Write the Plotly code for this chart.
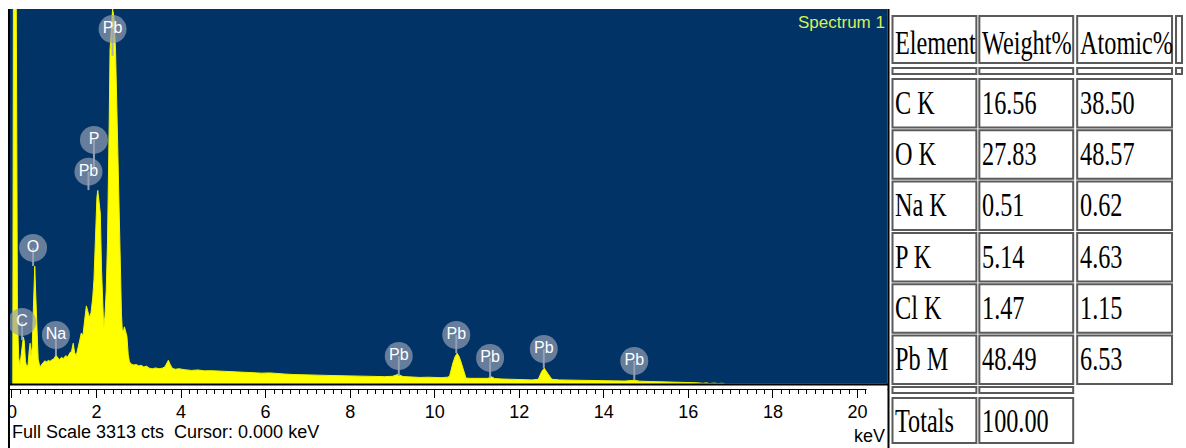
import plotly.graph_objects as go

# ---- EDS spectrum: energy (keV) and counts per channel ----
energy_kev = [
    0.02, 0.035, 0.10, 0.13, 0.16, 0.19, 0.22, 0.25, 0.27, 0.29, 0.32, 0.35, 0.38, 0.41, 0.43,
    0.45, 0.48, 0.51, 0.54, 0.56, 0.59, 0.62, 0.66, 0.70, 0.74, 0.78, 0.82, 0.86, 0.90, 0.95,
    1.00, 1.04, 1.08, 1.12, 1.17, 1.22, 1.27, 1.32, 1.37, 1.41, 1.45, 1.48, 1.52, 1.56, 1.60,
    1.64, 1.68, 1.72, 1.76, 1.79, 1.83, 1.87, 1.91, 1.94, 1.98, 2.01, 2.03, 2.06, 2.09, 2.12,
    2.14, 2.17, 2.20, 2.23, 2.26, 2.28, 2.30, 2.32, 2.35, 2.38, 2.41, 2.45, 2.49, 2.53, 2.56,
    2.59, 2.61, 2.64, 2.66, 2.69, 2.72, 2.75, 2.78, 2.83, 2.88, 2.94, 3.00, 3.06, 3.12, 3.18,
    3.25, 3.32, 3.40, 3.48, 3.56, 3.62, 3.66, 3.70, 3.74, 3.79, 3.86, 3.95, 4.09, 4.25, 4.40,
    4.55, 4.70, 4.88, 5.05, 5.25, 5.45, 5.67, 5.90, 6.10, 6.30, 6.45, 6.65, 6.85, 7.05, 7.24,
    7.45, 7.65, 7.85, 8.03, 8.25, 8.42, 8.60, 8.81, 9.00, 9.13, 9.25, 9.45, 9.65, 9.85, 10.00,
    10.15, 10.30, 10.35, 10.43, 10.48, 10.53, 10.58, 10.63, 10.69, 10.74, 10.85, 11.00, 11.15, 11.26, 11.34,
    11.42, 11.60, 11.80, 11.96, 12.15, 12.30, 12.45, 12.53, 12.59, 12.67, 12.77, 12.95, 13.15, 13.35, 13.53,
    13.75, 14.00, 14.25, 14.50, 14.72, 14.85, 15.10, 15.30, 15.50, 15.75, 15.95, 16.20, 16.35, 16.42, 16.50,
    16.62, 16.70, 16.80, 16.88, 20.70,
]
counts = [
    0, 3600, 3600, 600, 230, 170, 260, 390, 415, 380, 200, 150, 170, 300, 360,
    250, 330, 700, 1040, 820, 400, 220, 150, 175, 190, 205, 195, 210, 200, 215,
    225, 255, 230, 215, 235, 225, 250, 240, 275, 290, 360, 280, 250, 330, 380,
    450, 430, 565, 690, 650, 590, 630, 760, 920, 1400, 1650, 1710, 1600, 1510, 1000,
    700, 505, 600, 830, 1250, 1630, 2300, 2950, 3200, 3313, 3250, 2950, 2300, 1630, 1000,
    620, 480, 470, 505, 470, 420, 260, 195, 175, 168, 172, 160, 165, 150, 158,
    140, 135, 142, 135, 140, 153, 185, 210, 175, 140, 130, 135, 126, 120, 124,
    116, 118, 115, 108, 110, 104, 102, 96, 98, 90, 88, 84, 80, 82, 78,
    76, 74, 72, 70, 68, 70, 66, 65, 68, 85, 66, 60, 58, 60, 56,
    56, 60, 68, 185, 240, 272, 240, 185, 100, 52, 50, 48, 50, 50, 64,
    48, 44, 40, 36, 38, 36, 42, 110, 140, 95, 42, 36, 34, 32, 30,
    30, 28, 27, 26, 33, 25, 22, 21, 20, 16, 14, 11, 6, 10, 4,
    8, 3, 7, 0, 0,
]
full_scale = 3313
x_tick_values = [0, 2, 4, 6, 8, 10, 12, 14, 16, 18, 20]
x_tick_labels = ["0", "2", "4", "6", "8", "10", "12", "14", "16", "18", "20"]

# ---- element line markers ----
marker_elements = ["C", "O", "Na", "Pb", "P", "Pb", "Pb", "Pb", "Pb", "Pb", "Pb"]
marker_kev = [0.24, 0.50, 1.04, 1.81, 1.94, 2.38, 9.15, 10.51, 11.31, 12.58, 14.72]
# height (in counts) where each label bubble sits, and where its stem ends
label_level = [548, 1202, 433, 1876, 2156, 3136, 247, 433, 230, 309, 203]
stem_end = [389, 1043, 247, 1714, 1876, 2900, 71, 274, 53, 141, 35]

# ---- quantification table ----
table_header = ["Element", "Weight%", "Atomic%"]
elements = ["C K", "O K", "Na K", "P K", "Cl K", "Pb M"]
weight_pct = [16.56, 27.83, 0.51, 5.14, 1.47, 48.49]
atomic_pct = [38.50, 48.57, 0.62, 4.63, 1.15, 6.53]
total_weight = 100.00

W, H = 1186, 448


def px(x):
    return x / W


def py(y):
    return 1 - y / H


fig = go.Figure()

fig.add_trace(go.Scatter(
    x=energy_kev, y=counts, mode="lines", fill="tozeroy",
    line=dict(color="#f2f400", width=1), fillcolor="#ffff00",
    hoverinfo="skip",
))

# stems below the label bubbles
stem_x, stem_y = [], []
for e, top, bot in zip(marker_kev, label_level, stem_end):
    stem_x += [e, e, None]
    stem_y += [top, bot, None]
fig.add_trace(go.Scatter(
    x=stem_x, y=stem_y, mode="lines",
    line=dict(color="rgba(160,170,190,0.9)", width=2), hoverinfo="skip",
))

fig.add_trace(go.Scatter(
    x=marker_kev, y=label_level, mode="markers+text", text=marker_elements,
    textposition="middle center",
    textfont=dict(family="Liberation Sans, Arial, sans-serif", size=16, color="white"),
    marker=dict(size=28, color="rgba(150,160,180,0.68)", line=dict(width=0)),
    hoverinfo="skip",
))

shapes = []
annotations = []

# spectrum frame
shapes.append(dict(type="line", xref="paper", yref="paper", x0=px(7), x1=px(888),
                   y0=py(384.5), y1=py(384.5), line=dict(color="black", width=2)))
shapes.append(dict(type="rect", xref="paper", yref="paper", x0=0, x1=px(6.5),
                   y0=py(448), y1=py(386), fillcolor="white", line=dict(width=0), layer="above"))
shapes.append(dict(type="rect", xref="paper", yref="paper", x0=px(866), x1=px(887),
                   y0=py(402), y1=py(386), fillcolor="white", line=dict(width=0), layer="above"))
shapes.append(dict(type="line", xref="paper", yref="paper", x0=px(7), x1=px(7),
                   y0=py(448), y1=py(9), line=dict(color="black", width=2)))
shapes.append(dict(type="line", xref="paper", yref="paper", x0=px(888), x1=px(888),
                   y0=py(448), y1=py(9), line=dict(color="black", width=2)))

axis_font = dict(family="Liberation Sans, Arial, sans-serif", size=18, color="black")
annotations.append(dict(
    xref="paper", yref="paper", x=px(8), y=py(432), xanchor="left", yanchor="middle",
    text=f"Full Scale {full_scale} cts\u00a0\u00a0Cursor: 0.000 keV", showarrow=False, font=axis_font,
))
annotations.append(dict(
    xref="paper", yref="paper", x=px(886), y=py(436), xanchor="right", yanchor="middle",
    text="keV", showarrow=False, font=axis_font,
))
annotations.append(dict(
    xref="paper", yref="paper", x=px(886), y=py(22), xanchor="right", yanchor="middle",
    text="Spectrum 1", showarrow=False,
    font=dict(family="Liberation Sans, Arial, sans-serif", size=17, color="#d6f05a"),
))

# table layout (pixel geometry)
col_x0 = [892, 979, 1077]
col_x1 = [976, 1073, 1172]
cell_line = dict(color="#5a5a5a", width=2)
table_font = dict(family="Liberation Serif, Times New Roman, serif", size=25, color="black")


def cell(x0, x1, y0, y1):
    shapes.append(dict(type="rect", xref="paper", yref="paper", x0=px(x0), x1=px(x1),
                       y0=py(y1), y1=py(y0), line=cell_line, fillcolor="white"))


def cell_text(x0, yc, s):
    annotations.append(dict(xref="paper", yref="paper", x=px(x0 + 1), y=py(yc),
                            xanchor="left", yanchor="middle", text=s, showarrow=False,
                            font=table_font))


# header row
hy0, hy1 = 16, 63
for i, h in enumerate(table_header):
    cell(col_x0[i], col_x1[i], hy0, hy1)
    cell_text(col_x0[i], 42, h)
cell(1176, 1182, hy0, hy1)

# separator row
for i in range(3):
    cell(col_x0[i], col_x1[i], 68, 74)
cell(1176, 1182, 68, 74)

# data rows
row_top, row_pitch, row_h = 79, 51.3, 48.5
for r, (el, wt, at) in enumerate(zip(elements, weight_pct, atomic_pct)):
    y0 = row_top + r * row_pitch
    y1 = y0 + row_h
    yc = (y0 + y1) / 2 - 1
    for i, s in enumerate([el, f"{wt:.2f}", f"{at:.2f}"]):
        cell(col_x0[i], col_x1[i], y0, y1)
        cell_text(col_x0[i], yc, s)

# totals
for i in range(2):
    cell(col_x0[i], col_x1[i], 387, 393)
for i, s in enumerate(["Totals", f"{total_weight:.2f}"]):
    cell(col_x0[i], col_x1[i], 398, 443)
    cell_text(col_x0[i], 420, s)

fig.update_layout(
    width=W, height=H, autosize=False,
    margin=dict(l=0, r=0, t=0, b=0),
    paper_bgcolor="white", plot_bgcolor="#023366",
    showlegend=False,
    xaxis=dict(
        domain=[px(7), px(887)], range=[-0.07, 20.71],
        anchor="free", position=py(389),
        tickvals=x_tick_values, ticktext=x_tick_labels,
        ticks="outside", ticklen=8, tickwidth=1, tickcolor="black",
        ticklabelstandoff=-2,
        showline=True, linecolor="black", linewidth=1,
        showgrid=False, zeroline=False, tickfont=axis_font,
        minor=dict(tick0=0, dtick=0.2, ticks="outside", ticklen=4, tickcolor="black", showgrid=False),
        fixedrange=True,
    ),
    yaxis=dict(domain=[py(384), py(9)], range=[0, full_scale], visible=False, fixedrange=True),
    shapes=shapes,
    annotations=annotations,
)

# the table's serif text is set tall and narrow
post_js = """
var gd = document.getElementById('{plot_id}');
function tallTableText() {
  gd.querySelectorAll('text.annotation-text').forEach(function (t) {
    if ((t.style.fontFamily || '').indexOf('Liberation Serif') !== -1) {
      t.style.transformBox = 'fill-box';
      t.style.transformOrigin = '0% 50%';
      t.style.transform = 'scale(0.97, 1.32)';
    }
  });
}
tallTableText();
setTimeout(tallTableText, 50);
if (gd.on) { gd.on('plotly_afterplot', tallTableText); }
"""

fig.write_html("out.html", post_script=post_js)
